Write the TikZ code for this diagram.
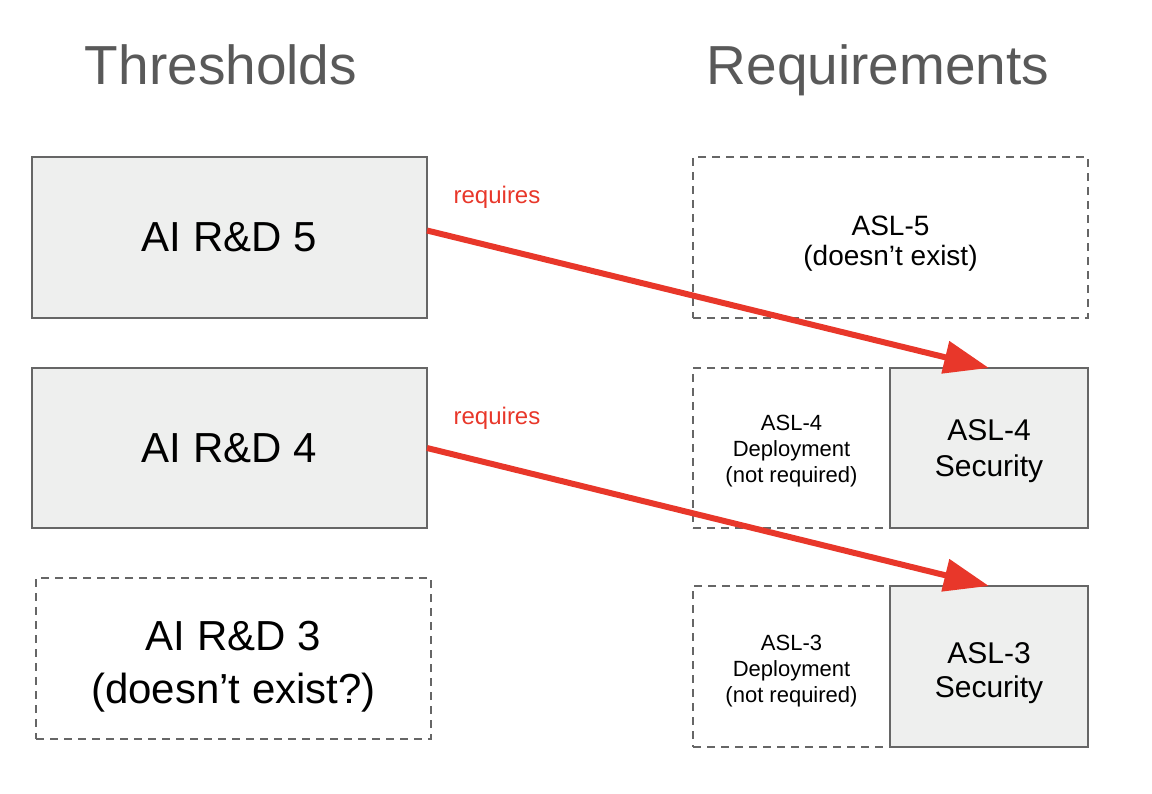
\documentclass[tikz,border=0pt]{standalone}
\usepackage{fontspec}
\setmainfont{Liberation Sans}
\usepackage{tikz}
\usetikzlibrary{arrows.meta, positioning, calc}

\definecolor{boxfill}{HTML}{EEEFEE}
\definecolor{boxline}{HTML}{666666}
\definecolor{titlegray}{HTML}{595959}
\definecolor{reqred}{HTML}{E8372A}

\begin{document}
\begin{tikzpicture}[x=1pt, y=-1pt,
    block/.style={rectangle, draw=boxline, line width=2pt, fill=boxfill, inner sep=0pt, outer sep=0pt, align=center},
    dashblock/.style={rectangle, draw=boxline, line width=2pt, dash pattern=on 8pt off 6pt, inner sep=0pt, outer sep=0pt, align=center},
    textdrop/.style={execute at begin node={\rule{0pt}{#1}}},
    title/.style={text=titlegray, anchor=base, font=\fontsize{55}{66}\selectfont},
    reqlabel/.style={text=reqred, font=\fontsize{24}{28}\selectfont},
    arrow/.style={draw=reqred, line width=6pt, -{Triangle[length=45pt, width=32pt]}}]
    \useasboundingbox (0,0) rectangle (1152,794);
    % column titles
    \node [title] (thr) at (221,85) {Thresholds};
    \node [title] (req) at (878,85) {Requirements};
    % thresholds
    \node [block, minimum width=395pt, minimum height=161pt, font=\fontsize{42}{52}\selectfont] (th5) at (229.5,237.5) {AI R\&D 5};
    \node [block, minimum width=395pt, minimum height=160pt, font=\fontsize{42}{52}\selectfont] (th4) at (229.5,448) {AI R\&D 4};
    \node [dashblock, minimum width=395pt, minimum height=161pt, font=\fontsize{42}{53}\selectfont, textdrop=98pt] (th3) at (233.5,658.5) {AI R\&D 3\\(doesn’t exist?)};
    % requirements
    \node [dashblock, minimum width=395pt, minimum height=161pt, font=\fontsize{28}{30}\selectfont, textdrop=62.5pt] (asl5) at (890.5,237.5) {ASL-5\\(doesn’t exist)};
    \node [dashblock, minimum width=197pt, minimum height=160pt, font=\fontsize{22}{26}\selectfont, textdrop=74pt] (dep4) at (791.5,448) {ASL-4\\Deployment\\(not required)};
    \node [block, minimum width=198pt, minimum height=160pt, font=\fontsize{30}{36}\selectfont, textdrop=64pt, right=0pt of dep4] (sec4) {ASL-4\\Security};
    \node [dashblock, minimum width=197pt, minimum height=161pt, font=\fontsize{22}{26}\selectfont, textdrop=76pt] (dep3) at (791.5,666.5) {ASL-3\\Deployment\\(not required)};
    \node [block, minimum width=198pt, minimum height=161pt, font=\fontsize{30}{34}\selectfont, textdrop=68pt, right=0pt of dep3] (sec3) {ASL-3\\Security};
    % links
    \node [reqlabel] (req5) at (497,197) {requires};
    \node [reqlabel] (req4) at (497,418) {requires};
    \draw [arrow] ([yshift=7pt]th5.east) -- (sec4.north);
    \draw [arrow] (th4.east) -- (sec3.north);
\end{tikzpicture}
\end{document}
